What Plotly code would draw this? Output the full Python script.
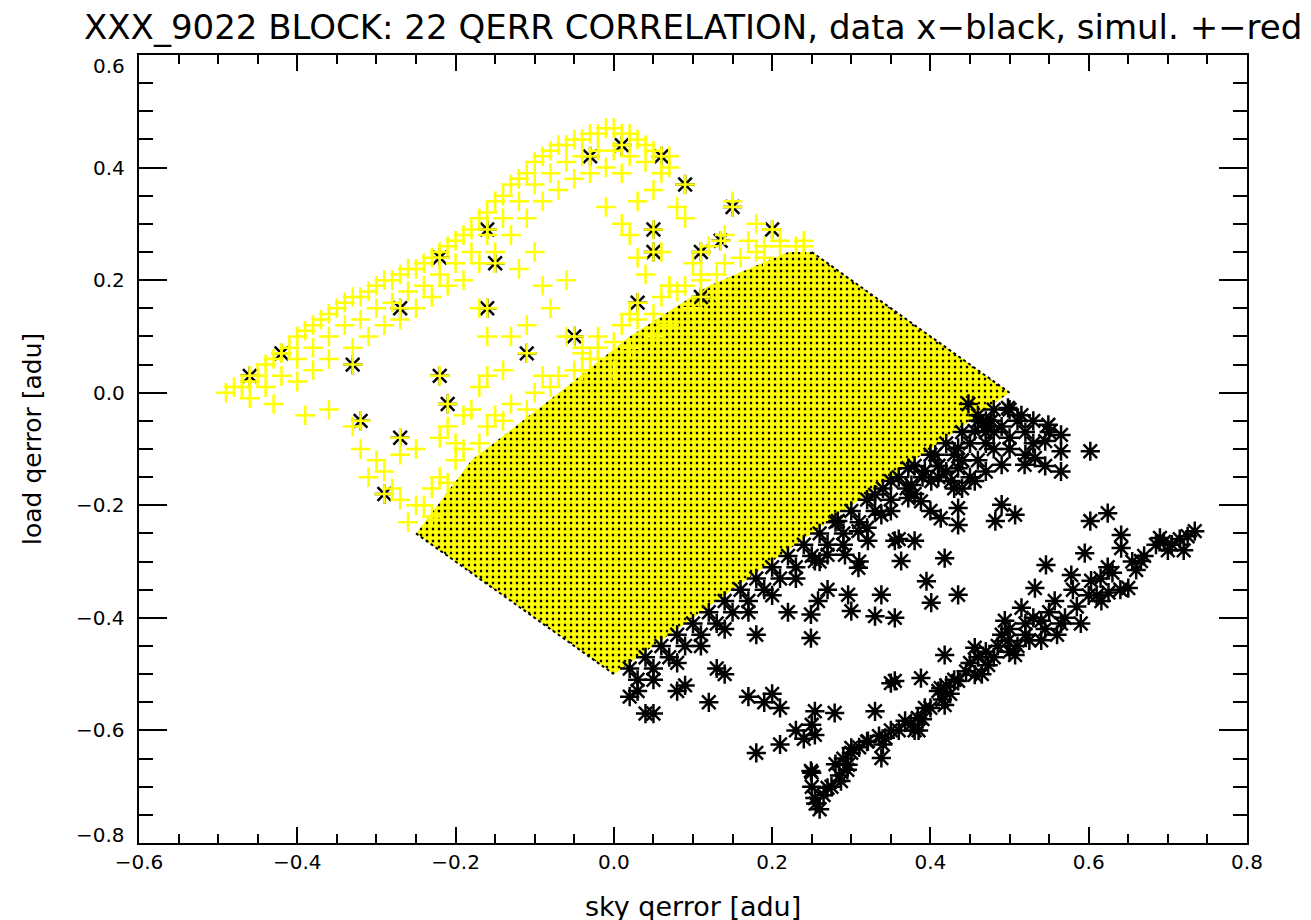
import plotly.graph_objects as go

# ---------------- data ----------------
# dense lattice region where both point sets overlap (outline vertices)
dense_x = [-0.25, -0.18, -0.06, 0.02, 0.12, 0.22, 0.25, 0.50, 0.00]
dense_y = [-0.25, -0.12, 0.01, 0.10, 0.19, 0.25, 0.25, 0.00, -0.50]
# edges of the lattice that show a dark fringe
fringe_a_x = [0.25, 0.50]
fringe_a_y = [0.25, 0.00]
fringe_b_x = [-0.25, 0.00]
fringe_b_y = [-0.25, -0.50]

# simulation (+ markers, yellow) -- upper-left band, outer edge
simA_x = [-0.49, -0.48, -0.47, -0.46, -0.45, -0.44, -0.43, -0.42, -0.41, -0.40,
          -0.39, -0.38, -0.37, -0.36, -0.35, -0.34, -0.33, -0.32, -0.31, -0.30,
          -0.29, -0.28, -0.27, -0.26, -0.25, -0.24, -0.23, -0.22, -0.21, -0.20,
          -0.19, -0.18, -0.17, -0.16, -0.15, -0.14, -0.13, -0.12, -0.11, -0.10,
          -0.09, -0.08, -0.07, -0.06, -0.05, -0.04, -0.03, -0.02, -0.01, 0.00,
          0.01, 0.02, 0.03, 0.04, 0.05, 0.07]
simA_y = [0.00, 0.01, 0.01, 0.02, 0.03, 0.05, 0.06, 0.07, 0.08, 0.10,
          0.11, 0.12, 0.13, 0.14, 0.15, 0.16, 0.17, 0.17, 0.18, 0.19,
          0.20, 0.20, 0.21, 0.22, 0.22, 0.23, 0.24, 0.25, 0.26, 0.27,
          0.28, 0.29, 0.31, 0.32, 0.34, 0.35, 0.37, 0.38, 0.39, 0.41,
          0.42, 0.43, 0.44, 0.44, 0.45, 0.45, 0.46, 0.46, 0.47, 0.47,
          0.46, 0.46, 0.45, 0.44, 0.43, 0.42]
# band, inner rows
simB_x = [-0.46, -0.44, -0.42, -0.40, -0.38, -0.36, -0.34, -0.32, -0.30, -0.28,
          -0.26, -0.24, -0.22, -0.20, -0.18, -0.16, -0.14, -0.12, -0.10, -0.08,
          -0.06, -0.04, -0.02, 0.00, 0.02, 0.04,
          -0.43, -0.40, -0.38, -0.36, -0.33, -0.31, -0.29, -0.27, -0.25, -0.23,
          -0.21, -0.19, -0.17, -0.15, -0.13, -0.11, -0.09, -0.07, -0.05, -0.03,
          -0.01, 0.01]
simB_y = [-0.01, 0.01, 0.03, 0.06, 0.08, 0.10, 0.12, 0.13, 0.15, 0.16,
          0.18, 0.19, 0.21, 0.23, 0.25, 0.28, 0.31, 0.34, 0.37, 0.39,
          0.41, 0.42, 0.43, 0.43, 0.42, 0.41,
          -0.02, 0.02, 0.04, 0.06, 0.08, 0.10, 0.12, 0.13, 0.15, 0.17,
          0.19, 0.20, 0.23, 0.25, 0.28, 0.31, 0.34, 0.36, 0.38, 0.39,
          0.40, 0.39]
# scattered crosses between the band and the lattice
simC_x = [-0.39, -0.36, -0.33, -0.32, -0.30, -0.29, -0.31, -0.28, -0.27, -0.25,
          -0.23, -0.27, -0.25, -0.22, -0.21, -0.19, -0.18, -0.17, -0.16, -0.14,
          -0.08, -0.11, -0.13, -0.16, -0.17, -0.09, -0.06, -0.06, -0.04, -0.02,
          -0.02, -0.04, -0.01, 0.01, 0.03, 0.05, 0.06, 0.07, 0.02, 0.06,
          0.07, 0.10, 0.11, 0.12, 0.14, 0.15, 0.13, 0.10, 0.07, 0.05,
          0.02, 0.00, 0.19, 0.21, 0.24, 0.20,
          0.04, 0.09, 0.17, 0.18, 0.03, -0.12, -0.10, 0.08]
simC_y = [-0.04, -0.03, -0.06, -0.10, -0.12, -0.14, -0.15, -0.17, -0.19, -0.20,
          -0.22, -0.11, -0.10, -0.08, -0.06, -0.04, -0.03, 0.01, 0.03, 0.04,
          0.15, 0.12, 0.10, 0.10, 0.15, 0.19, 0.20, 0.10, 0.07, 0.10,
          0.06, 0.04, 0.33, 0.30, 0.34, 0.36, 0.39, 0.40, 0.28, 0.25,
          0.19, 0.23, 0.20, 0.26, 0.28, 0.34, 0.18, 0.15, 0.12, 0.10,
          0.08, 0.04, 0.24, 0.26, 0.26, 0.29,
          0.21, 0.31, 0.27, 0.30, 0.24, 0.22, 0.25, 0.33]
# ragged fringe along the upper-left side of the lattice
simD_x = [-0.26, -0.24, -0.23, -0.22, -0.21, -0.20, -0.19, -0.17, -0.16, -0.14,
          -0.13, -0.11, -0.10, -0.08, -0.07, -0.05, -0.03, -0.02, 0.00, 0.01,
          0.03, 0.05, 0.06, 0.08, 0.09, 0.11, 0.13, 0.14, 0.16, 0.18,
          0.19, 0.21, 0.23, 0.24, -0.20, -0.15, -0.09, -0.04, 0.02, 0.07]
simD_y = [-0.23, -0.20, -0.17, -0.15, -0.16, -0.12, -0.10, -0.09, -0.06, -0.05,
          -0.02, -0.03, 0.00, 0.01, 0.03, 0.04, 0.06, 0.08, 0.09, 0.12,
          0.13, 0.14, 0.17, 0.18, 0.19, 0.21, 0.21, 0.23, 0.24, 0.25,
          0.26, 0.27, 0.26, 0.27, -0.09, -0.04, 0.03, 0.08, 0.14, 0.19]

# measured data (asterisks, black) -- upper region (also covered by a +)
datU_x = [-0.46, -0.42, -0.33, -0.32, -0.27, -0.22, -0.21, -0.27, -0.29, -0.22,
          -0.16, -0.15, -0.16, -0.11, -0.05, -0.03, 0.01, 0.06, 0.09, 0.05,
          0.05, 0.11, 0.135, 0.15, 0.20, 0.11, 0.03]
datU_y = [0.03, 0.07, 0.05, -0.05, 0.15, 0.03, -0.02, -0.08, -0.18, 0.24,
          0.29, 0.23, 0.15, 0.07, 0.10, 0.42, 0.44, 0.42, 0.37, 0.29,
          0.25, 0.25, 0.27, 0.33, 0.29, 0.17, 0.16]
# dense band just below the lower-right side of the lattice
datE_x = [0.02, 0.04, 0.06, 0.08, 0.10, 0.12, 0.14, 0.16, 0.18, 0.20,
          0.22, 0.24, 0.26, 0.28, 0.30, 0.32, 0.34, 0.36, 0.38, 0.40,
          0.42, 0.44, 0.46, 0.48,
          0.03, 0.05, 0.07, 0.09, 0.11, 0.13, 0.15, 0.17, 0.19, 0.21,
          0.23, 0.25, 0.27, 0.29, 0.31, 0.33, 0.35, 0.37, 0.39, 0.41,
          0.43, 0.45, 0.47,
          0.02, 0.05, 0.08, 0.11, 0.14, 0.17, 0.20, 0.23, 0.26, 0.29,
          0.32, 0.35, 0.38, 0.41, 0.44,
          0.04, 0.09, 0.13, 0.18, 0.22, 0.27, 0.31, 0.36, 0.40, 0.44]
datE_y = [-0.49, -0.47, -0.45, -0.43, -0.41, -0.39, -0.37, -0.35, -0.33, -0.31,
          -0.29, -0.27, -0.25, -0.23, -0.21, -0.19, -0.17, -0.15, -0.13, -0.11,
          -0.09, -0.07, -0.05, -0.03,
          -0.51, -0.49, -0.47, -0.45, -0.43, -0.41, -0.39, -0.37, -0.35, -0.33,
          -0.31, -0.29, -0.27, -0.25, -0.23, -0.21, -0.19, -0.17, -0.15, -0.13,
          -0.11, -0.09, -0.07,
          -0.54, -0.51, -0.48, -0.45, -0.42, -0.39, -0.36, -0.33, -0.30, -0.27,
          -0.24, -0.21, -0.18, -0.15, -0.12,
          -0.57, -0.52, -0.49, -0.43, -0.39, -0.35, -0.30, -0.26, -0.21, -0.17]
# scattered asterisks right of the lattice and between the bands
datM_x = [0.602, 0.448, 0.47, 0.50, 0.52, 0.545, 0.565, 0.624, 0.602,
          0.418, 0.395, 0.401, 0.435, 0.363, 0.296, 0.338, 0.30, 0.33, 0.355,
          0.258, 0.249, 0.249, 0.49, 0.507, 0.482, 0.435, 0.435, 0.413, 0.388,
          0.372, 0.376, 0.401, 0.426, 0.456, 0.393, 0.435, 0.49, 0.519, 0.532,
          0.565, 0.545, 0.549, 0.565, 0.515, 0.498, 0.477, 0.456, 0.435, 0.406,
          0.372, 0.35, 0.33, 0.338, 0.309, 0.321, 0.355, 0.38, 0.283, 0.27,
          0.292, 0.309, 0.254,
          0.46, 0.47, 0.48, 0.49, 0.51, 0.52, 0.53, 0.50, 0.48, 0.46,
          0.47, 0.44, 0.45, 0.43, 0.42, 0.41, 0.50, 0.53, 0.55, 0.47,
          0.03, 0.05, 0.08, 0.12, 0.17, 0.19, 0.21, 0.20, 0.18,
          0.21, 0.24, 0.25, 0.25, 0.23, 0.14]
datM_y = [-0.104, -0.02, -0.06, -0.08, -0.11, -0.13, -0.14, -0.214, -0.228,
          -0.294, -0.335, -0.373, -0.359, -0.299, -0.359, -0.359, -0.388, -0.397, -0.40,
          -0.37, -0.394, -0.436, -0.199, -0.217, -0.228, -0.205, -0.235, -0.223, -0.193,
          -0.187, -0.164, -0.157, -0.157, -0.157, -0.139, -0.134, -0.128, -0.128, -0.116,
          -0.104, -0.086, -0.057, -0.075, -0.04, -0.027, -0.05, -0.068, -0.098, -0.11,
          -0.134, -0.157, -0.181, -0.217, -0.246, -0.263, -0.263, -0.263, -0.228, -0.288,
          -0.288, -0.311, -0.299,
          -0.04, -0.05, -0.07, -0.06, -0.05, -0.07, -0.09, -0.10, -0.10, -0.12,
          -0.14, -0.12, -0.15, -0.17, -0.14, -0.13, -0.03, -0.05, -0.07, -0.09,
          -0.53, -0.57, -0.53, -0.55, -0.54, -0.55, -0.56, -0.535, -0.64,
          -0.625, -0.615, -0.675, -0.59, -0.60, -0.50]
# lower diagonal band
datL_x = [0.734, 0.69, 0.705, 0.72, 0.641, 0.641, 0.666, 0.595, 0.624, 0.65,
          0.603, 0.578, 0.546, 0.532, 0.557, 0.616, 0.515, 0.494, 0.54, 0.565,
          0.52, 0.498, 0.54, 0.456, 0.507, 0.473, 0.418, 0.435, 0.413, 0.456,
          0.388, 0.35, 0.418, 0.384, 0.368, 0.33, 0.393, 0.38, 0.343, 0.321,
          0.30, 0.338, 0.296, 0.287, 0.27, 0.254, 0.254, 0.279, 0.254, 0.249,
          0.355,
          0.685, 0.695, 0.715, 0.725, 0.70, 0.655, 0.67, 0.66, 0.615, 0.63,
          0.64, 0.625, 0.61, 0.57, 0.585, 0.60, 0.58, 0.59, 0.49, 0.50,
          0.52, 0.53, 0.55, 0.51, 0.525, 0.545, 0.50, 0.485, 0.56, 0.45,
          0.46, 0.47, 0.48, 0.465, 0.445, 0.41, 0.42, 0.43, 0.415, 0.40,
          0.425, 0.375, 0.39, 0.36, 0.385, 0.32, 0.335, 0.35, 0.31, 0.34,
          0.28, 0.29, 0.285, 0.30, 0.295, 0.255, 0.265, 0.275, 0.26, 0.25]
datL_y = [-0.246, -0.258, -0.27, -0.28, -0.253, -0.276, -0.299, -0.285, -0.31, -0.347,
          -0.334, -0.324, -0.306, -0.347, -0.37, -0.37, -0.382, -0.405, -0.405, -0.41,
          -0.43, -0.441, -0.44, -0.453, -0.466, -0.484, -0.466, -0.512, -0.525, -0.501,
          -0.507, -0.516, -0.555, -0.578, -0.583, -0.566, -0.56, -0.60, -0.613, -0.619,
          -0.631, -0.649, -0.661, -0.69, -0.702, -0.72, -0.566, -0.569, -0.608, -0.672,
          -0.512,
          -0.27, -0.265, -0.26, -0.255, -0.28, -0.30, -0.29, -0.315, -0.33, -0.32,
          -0.35, -0.355, -0.36, -0.40, -0.38, -0.36, -0.35, -0.41, -0.43, -0.42,
          -0.41, -0.40, -0.39, -0.45, -0.44, -0.42, -0.46, -0.45, -0.43, -0.48,
          -0.47, -0.46, -0.47, -0.50, -0.495, -0.53, -0.52, -0.51, -0.545, -0.56,
          -0.535, -0.59, -0.58, -0.60, -0.60, -0.62, -0.61, -0.60, -0.63, -0.625,
          -0.66, -0.65, -0.68, -0.64, -0.67, -0.73, -0.715, -0.70, -0.74, -0.70]

# axes
x_tick_vals = [-0.6, -0.4, -0.2, 0.0, 0.2, 0.4, 0.6, 0.8]
x_tick_text = ["\u22120.6", "\u22120.4", "\u22120.2", "0.0", "0.2", "0.4", "0.6", "0.8"]
y_tick_vals = [-0.8, -0.6, -0.4, -0.2, 0.0, 0.2, 0.4, 0.6]
y_tick_text = ["\u22120.8", "\u22120.6", "\u22120.4", "\u22120.2", "0.0", "0.2", "0.4", "0.6"]

title_text = "XXX_9022 BLOCK: 22 QERR CORRELATION, data x\u2212black, simul. +\u2212red"
x_title = "sky qerror [adu]"
y_title = "load qerror [adu]"

# ---------------- figure ----------------
FONT = "DejaVu Sans"
YEL = "#ffff00"
BLK = "#000000"
TICK_SIZE = 20

sim_x = simA_x + simB_x + simC_x + simD_x + datU_x
sim_y = simA_y + simB_y + simC_y + simD_y + datU_y
dat_x = datU_x + datE_x + datM_x + datL_x
dat_y = datU_y + datE_y + datM_y + datL_y

fig = go.Figure()

fig.add_trace(go.Scatter(
    x=dense_x + dense_x[:1], y=dense_y + dense_y[:1],
    mode="lines", fill="toself", line=dict(width=0, color=YEL),
    fillcolor=YEL,
    fillpattern=dict(shape="+", fgcolor=YEL, bgcolor=BLK,
                     size=6, solidity=0.85, fillmode="replace"),
    hoverinfo="skip", showlegend=False))

for fx, fy in ((fringe_a_x, fringe_a_y), (fringe_b_x, fringe_b_y)):
    fig.add_trace(go.Scatter(x=fx, y=fy, mode="lines",
                             line=dict(color=BLK, width=2, dash="dot"),
                             hoverinfo="skip", showlegend=False))

fig.add_trace(go.Scatter(
    x=dat_x, y=dat_y, mode="markers",
    marker=dict(symbol="asterisk-open", size=16, color=BLK,
                line=dict(color=BLK, width=2.5)),
    showlegend=False))

fig.add_trace(go.Scatter(
    x=sim_x, y=sim_y, mode="markers",
    marker=dict(symbol="cross-thin-open", size=14, color=YEL,
                line=dict(color=YEL, width=2.5)),
    showlegend=False))

axis_common = dict(
    ticks="inside", tickwidth=2, tickcolor=BLK,
    showline=True, linewidth=2, linecolor=BLK, mirror="allticks",
    showgrid=False, zeroline=False,
    tickfont=dict(family=FONT, size=TICK_SIZE, color=BLK),
)

fig.update_xaxes(range=[-0.6, 0.8], tickmode="array", tickvals=x_tick_vals,
                 ticktext=x_tick_text, ticklen=16,
                 minor=dict(ticks="inside", ticklen=9, tickwidth=2, tickcolor=BLK,
                            dtick=0.05, tick0=0, showgrid=False),
                 **axis_common)
fig.update_yaxes(range=[-0.8, 0.6], tickmode="array", tickvals=y_tick_vals,
                 ticktext=y_tick_text, ticklen=28, showticklabels=False,
                 minor=dict(ticks="inside", ticklen=14, tickwidth=2, tickcolor=BLK,
                            dtick=0.05, tick0=0, showgrid=False),
                 **axis_common)

annotations = [
    dict(text=title_text, xref="paper", yref="paper", x=0.5, y=1.0,
         yshift=28, showarrow=False, xanchor="center", yanchor="middle",
         font=dict(family=FONT, size=34, color=BLK)),
    dict(text=x_title, xref="paper", yref="paper", x=0.5, y=0.0,
         yshift=-63, showarrow=False, xanchor="center", yanchor="middle",
         font=dict(family=FONT, size=27, color=BLK)),
    dict(text=y_title, xref="paper", yref="paper", x=0.0, y=0.5,
         xshift=-107, yshift=10, showarrow=False, xanchor="center", yanchor="middle",
         textangle=-90, font=dict(family=FONT, size=25, color=BLK)),
]
# y tick labels (end labels sit inside the frame, as in the original)
for i, (v, t) in enumerate(zip(y_tick_vals, y_tick_text)):
    shift = 8 if i == 0 else (-11 if i == len(y_tick_vals) - 1 else 0)
    annotations.append(dict(text=t, xref="paper", yref="y", x=0.0, y=v,
                            xshift=-12, yshift=shift, showarrow=False,
                            xanchor="right", yanchor="middle",
                            font=dict(family=FONT, size=TICK_SIZE, color=BLK)))

fig.update_layout(
    width=1311, height=920,
    margin=dict(l=131, r=72, t=47, b=85),
    paper_bgcolor="#ffffff", plot_bgcolor="#ffffff",
    font=dict(family=FONT, color=BLK),
    annotations=annotations,
)

fig.write_html("out.html")
